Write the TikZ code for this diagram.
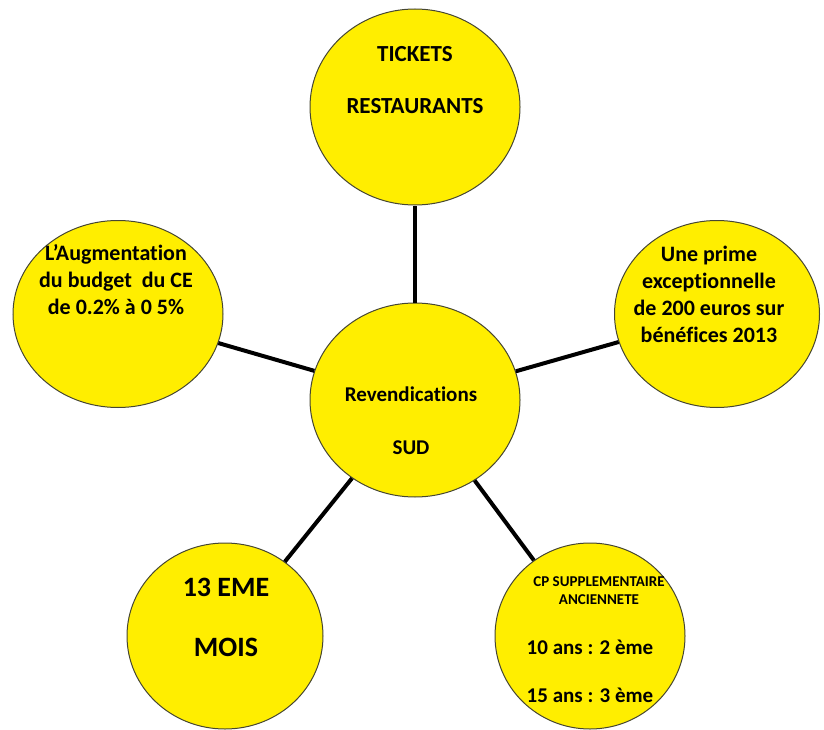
\documentclass[tikz,border=0pt]{standalone}
\usepackage{fontspec}
\setmainfont{Carlito}[Ligatures=CommonOff]
\usetikzlibrary{shapes.geometric, positioning}
\definecolor{jaune}{RGB}{255,238,0}
\definecolor{contour}{RGB}{70,70,50}
\tikzset{
    x=1pt, y=1pt,
    bulle/.style={ % the yellow circles
        ellipse, draw=contour, fill=jaune,
        line width=1pt, inner sep=0pt
    },
    texte/.style={ % text set in the circles
        align=center, inner sep=0pt,
        font=\bfseries\fontsize{22}{27}\selectfont
    },
    lien/.style={draw, line width=4pt, black}
}

\begin{document}
\begin{tikzpicture}
    \useasboundingbox (0,0) rectangle (824,-730);
    \node[bulle, minimum width=210pt, minimum height=194pt] (centre) at (415,-400) {};
    \node[bulle, minimum width=210pt, minimum height=196pt] (tickets) at (415,-107) {};
    \node[bulle, minimum width=210pt, minimum height=187pt] (budget) at (118,-314) {};
    \node[bulle, minimum width=205pt, minimum height=187pt] (prime) at (717,-314) {};
    \node[bulle, minimum width=196pt, minimum height=186pt] (mois) at (225,-636) {};
    \node[bulle, minimum width=190pt, minimum height=186pt] (conges) at (590,-636) {};
    \draw[lien] (centre) -- (tickets);
    \draw[lien] (centre) -- (budget);
    \draw[lien] (centre) -- (prime);
    \draw[lien] (centre) -- (mois);
    \draw[lien] (centre) -- (conges);
    \node[texte, font=\bfseries\fontsize{21}{27}\selectfont] (tCentre) at (411,-421) {Revendications\\[26pt]SUD};
    \node[texte, font=\bfseries\fontsize{23}{27}\selectfont] (tTickets) at (415,-80) {TICKETS\\[25pt]RESTAURANTS};
    \node[texte] (tBudget) at (116,-280) {L’Augmentation\\du budget\ \ du CE\\de 0.2\% à 0 5\%};
    \node[texte] (tPrime) at (709,-294) {Une prime\\exceptionnelle\\de 200 euros sur\\bénéfices 2013};
    \node[texte, font=\bfseries\fontsize{28}{30}\selectfont] (tMois) at (226,-617) {13 EME\\[30pt]MOIS};
    \node[texte, font=\bfseries\fontsize{15}{18}\selectfont] (tCp) at (599,-591) {CP SUPPLEMENTAIRE\\ANCIENNETE};
    \node[texte, font=\bfseries\fontsize{21}{48}\selectfont] (tAns) at (590,-671) {10 ans : 2 ème\\15 ans : 3 ème};
\end{tikzpicture}
\end{document}
